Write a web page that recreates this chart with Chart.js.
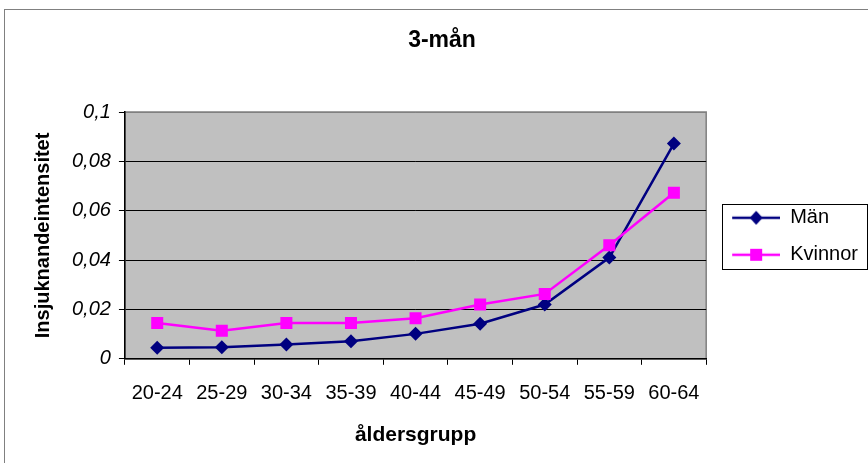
<!DOCTYPE html>
<html>
<head>
<meta charset="utf-8">
<script src="https://cdn.jsdelivr.net/npm/chart.js@4/dist/chart.umd.min.js"></script>
<style>
  html, body { margin: 0; padding: 0; background: #ffffff; }
  canvas { display: block; }
</style>
</head>
<body>
<canvas id="c" width="868" height="463"></canvas>
<script>
// ---- Data ----
const categories = ["20-24", "25-29", "30-34", "35-39", "40-44", "45-49", "50-54", "55-59", "60-64"];
const manValues = [0.0045, 0.0047, 0.0058, 0.0071, 0.0101, 0.0142, 0.0220, 0.0410, 0.0872];
const kvinnorValues = [0.0145, 0.0114, 0.0145, 0.0145, 0.0164, 0.0220, 0.0263, 0.0460, 0.0673];
const seriesNames = ["Män", "Kvinnor"];
const chartTitle = "3-mån";
const xAxisTitle = "åldersgrupp";
const yAxisTitle = "Insjuknandeintensitet";
const yTicksMin = 0, yTicksMax = 0.1, yTicksStep = 0.02;

const NAVY = "#000080";
const MAGENTA = "#FF00FF";
const FONT = "'Liberation Sans', Arial, Helvetica, sans-serif";

// legend symbol: short line with marker in the middle
function legendSymbol(color, style) {
  const cv = document.createElement("canvas");
  cv.width = 57; cv.height = 20;
  const g = cv.getContext("2d");
  g.strokeStyle = color; g.lineWidth = 2.5;
  g.beginPath(); g.moveTo(9, 10); g.lineTo(57, 10); g.stroke();
  g.fillStyle = color;
  const cx = 33, cy = 10;
  if (style === "diamond") {
    g.beginPath();
    g.moveTo(cx, cy - 7); g.lineTo(cx + 6.5, cy); g.lineTo(cx, cy + 7); g.lineTo(cx - 6.5, cy);
    g.closePath(); g.fill();
  } else {
    g.fillRect(cx - 6, cy - 6, 12, 12);
  }
  return cv;
}
const legendSymbols = [legendSymbol(NAVY, "diamond"), legendSymbol(MAGENTA, "square")];

const decorPlugin = {
  id: "decor",
  beforeDraw(chart) {
    const ctx = chart.ctx;
    const a = chart.chartArea;
    ctx.save();
    // outer chart border
    ctx.strokeStyle = "#808080";
    ctx.lineWidth = 1;
    ctx.strokeRect(4.5, 9.5, 900, 500);
    // plot area background
    ctx.fillStyle = "#C0C0C0";
    ctx.fillRect(a.left, a.top, a.right - a.left, a.bottom - a.top);
    ctx.strokeStyle = "#808080";
    ctx.lineWidth = 1.5;
    ctx.strokeRect(a.left, a.top, a.right - a.left, a.bottom - a.top);
    ctx.restore();
  },
  afterDraw(chart) {
    const lg = chart.legend;
    if (!lg || !lg.legendHitBoxes || !lg.legendHitBoxes.length) return;
    const hb = lg.legendHitBoxes;
    const ctx = chart.ctx;
    const left = Math.round(hb[0].left) - 0.5;
    const top = Math.round(hb[0].top) - 3.5;
    const bottom = Math.round(hb[hb.length - 1].top + hb[hb.length - 1].height) + 4.5;
    ctx.save();
    ctx.strokeStyle = "#000000";
    ctx.lineWidth = 1;
    ctx.strokeRect(left, top, 867.5 - left, bottom - top);
    ctx.restore();
  }
};

new Chart(document.getElementById("c"), {
  type: "line",
  data: {
    labels: categories,
    datasets: [
      {
        label: seriesNames[0],
        data: manValues,
        borderColor: NAVY,
        backgroundColor: NAVY,
        borderWidth: 2.5,
        pointStyle: "rectRot",
        pointRadius: 7,
        pointBorderWidth: 0,
        tension: 0,
        order: 1
      },
      {
        label: seriesNames[1],
        data: kvinnorValues,
        borderColor: MAGENTA,
        backgroundColor: MAGENTA,
        borderWidth: 2.5,
        pointStyle: "rect",
        pointRadius: 8.5,
        pointBorderWidth: 0,
        tension: 0,
        order: 0
      }
    ]
  },
  options: {
    responsive: false,
    animation: false,
    devicePixelRatio: 1,
    color: "#000000",
    layout: { padding: { left: 16, right: 0, top: 0, bottom: 12 } },
    plugins: {
      tooltip: { enabled: false },
      title: {
        display: true,
        text: chartTitle,
        color: "#000000",
        font: { family: FONT, size: 23, weight: "bold" },
        padding: { top: 27, bottom: 57.4 }
      },
      legend: {
        display: true,
        position: "right",
        align: "center",
        title: {
          display: true,
          text: " ",
          color: "#000000",
          padding: 0,
          font: { family: FONT, size: 18 }
        },
        labels: {
          usePointStyle: true,
          pointStyleWidth: 57,
          padding: 17,
          color: "#000000",
          font: { family: FONT, size: 20 },
          generateLabels(chart) {
            return chart.data.datasets.map((ds, i) => ({
              text: ds.label,
              fillStyle: ds.backgroundColor,
              strokeStyle: ds.borderColor,
              fontColor: "#000000",
              lineWidth: 0,
              pointStyle: legendSymbols[i],
              hidden: false,
              datasetIndex: i
            }));
          }
        }
      }
    },
    scales: {
      x: {
        offset: true,
        grid: {
          display: true,
          offset: true,
          drawOnChartArea: false,
          drawTicks: true,
          tickLength: 6,
          color: "#000000",
          tickColor: "#000000"
        },
        border: { display: true, color: "#000000", width: 1.5 },
        ticks: {
          color: "#000000",
          padding: 17,
          maxRotation: 0,
          autoSkip: false,
          font: { family: FONT, size: 20 }
        },
        title: {
          display: true,
          text: xAxisTitle,
          color: "#000000",
          font: { family: FONT, size: 21, weight: "bold" },
          padding: { top: 0, bottom: 3 }
        }
      },
      y: {
        min: yTicksMin,
        max: yTicksMax,
        grid: {
          display: true,
          drawTicks: true,
          tickLength: 6,
          color: (c) => (c.tick && Math.abs(c.tick.value - yTicksMax) < 1e-9) ? "#808080" : "#000000",
          tickColor: "#000000",
          lineWidth: 1
        },
        border: { display: true, color: "#000000", width: 1.5 },
        ticks: {
          stepSize: yTicksStep,
          color: "#000000",
          padding: 8,
          font: { family: FONT, size: 20, style: "italic" },
          callback: (v) => String(Math.round(v * 100) / 100).replace(".", ",")
        },
        title: {
          display: true,
          text: yAxisTitle,
          color: "#000000",
          font: { family: FONT, size: 20, weight: "bold" },
          padding: { top: 15, bottom: 9 }
        }
      }
    }
  },
  plugins: [decorPlugin]
});
</script>
</body>
</html>
